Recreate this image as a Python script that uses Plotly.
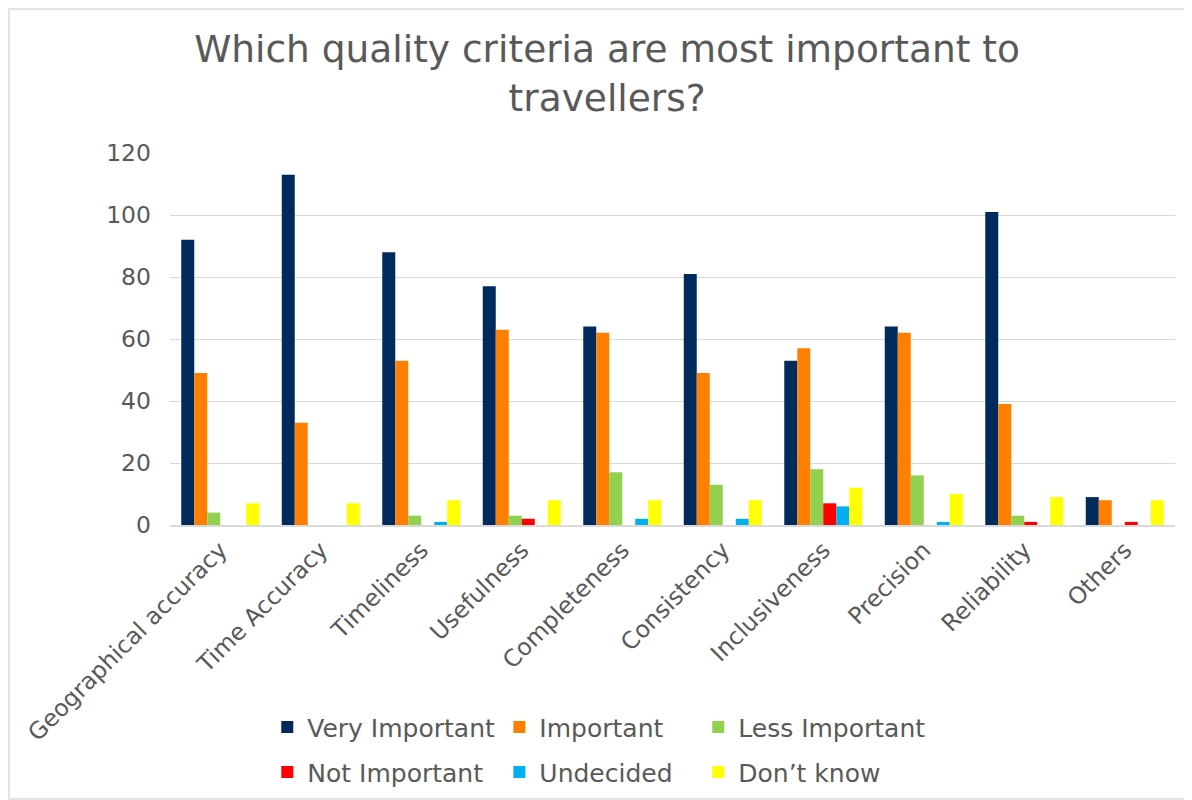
import plotly.graph_objects as go

criteria = ["Geographical accuracy", "Time Accuracy", "Timeliness", "Usefulness",
            "Completeness", "Consistency", "Inclusiveness", "Precision",
            "Reliability", "Others"]

very_important = [92, 113, 88, 77, 64, 81, 53, 64, 101, 9]
important = [49, 33, 53, 63, 62, 49, 57, 62, 39, 8]
less_important = [4, 0, 3, 3, 17, 13, 18, 16, 3, 0]
not_important = [0, 0, 0, 2, 0, 0, 7, 0, 1, 1]
undecided = [0, 0, 1, 0, 2, 2, 6, 1, 0, 0]
dont_know = [7, 7, 8, 8, 8, 8, 12, 10, 9, 8]

series = [
    ("Very Important", very_important, "#002a5c"),
    ("Important", important, "#ff7f00"),
    ("Less Important", less_important, "#92d050"),
    ("Not Important", not_important, "#ff0000"),
    ("Undecided", undecided, "#00b0f0"),
    ("Don\u2019t know", dont_know, "#ffff00"),
]

# legend slots: 3 columns x 2 rows (container coords)
leg_x = [0.219, 0.415, 0.583]
leg_y = [0.092, 0.035]

grey = "#595959"
fig = go.Figure()
legends = {}
for i, (name, vals, color) in enumerate(series):
    key = "legend" if i == 0 else "legend%d" % (i + 1)
    fig.add_trace(go.Bar(x=criteria, y=vals, name=name, marker_color=color,
                         marker_line_width=0, legend=key, showlegend=True))
    legends[key] = dict(x=leg_x[i % 3], y=leg_y[i // 3], xref="container",
                        yref="container", xanchor="left", yanchor="middle",
                        orientation="h", font=dict(size=25, color=grey),
                        itemwidth=30, bgcolor="rgba(0,0,0,0)")

fig.update_layout(
    width=1184, height=792, showlegend=True,
    paper_bgcolor="white", plot_bgcolor="white",
    font=dict(family="DejaVu Sans, Verdana, sans-serif", color=grey, size=23),
    title=dict(text="Which quality criteria are most important to<br>travellers?",
               x=0.506, xanchor="center", y=0.932, yanchor="top",
               font=dict(size=37.5, color=grey)),
    margin=dict(l=162, r=17, t=145, b=275, autoexpand=False),
    barmode="group", bargap=0.224, bargroupgap=0,
    **legends,
)
fig.update_yaxes(range=[0, 120], dtick=20, showgrid=True, gridcolor="#d9d9d9",
                 gridwidth=1, zeroline=False, ticks="", ticklabelstandoff=18,
                 tickfont=dict(size=23.5, color=grey), automargin=False)
fig.update_xaxes(showline=True, linecolor="#d9d9d9", linewidth=2, tickangle=-45,
                 tickfont=dict(size=23.5, color=grey), ticks="", automargin=False)
# outer chart border
fig.add_shape(type="rect", xref="paper", yref="paper",
              x0=-161 / 1005, x1=1 + 16 / 1005, y0=-274 / 372, y1=1 + 144 / 372,
              line=dict(color="#d9d9d9", width=1.5))
fig.write_html("out.html")
